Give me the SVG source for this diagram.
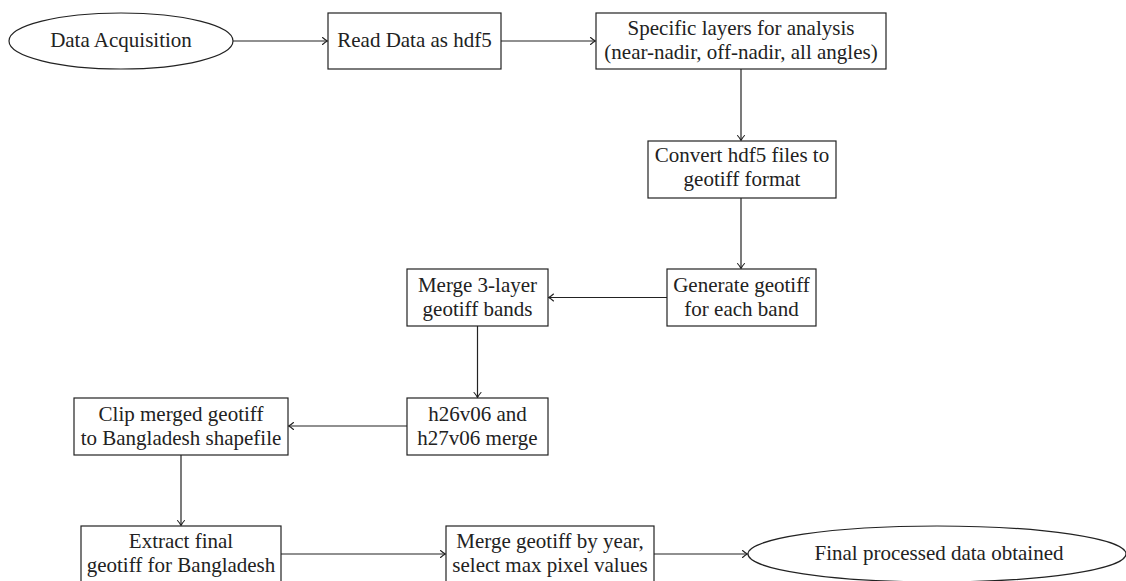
<svg xmlns="http://www.w3.org/2000/svg" width="1126" height="581" viewBox="0 0 1126 581">
<style>
  .shape { fill: #fff; stroke: #222; stroke-width: 1.2; }
  .lbl { font-family: 'Liberation Serif', 'Times New Roman', 'DejaVu Serif', serif; font-size: 21px; fill: #222; text-anchor: middle; }
  .conn { fill: none; stroke: #222; stroke-width: 1.2; }
</style>
<defs>
  <marker id="arr" markerUnits="userSpaceOnUse" markerWidth="12" markerHeight="10" viewBox="-6 -5 8 10" refX="0" refY="0" orient="auto">
    <path d="M -4.5 -3.5 Q -1.5 -0.8 0.5 0 Q -1.5 0.8 -4.5 3.5" fill="none" stroke="#222" stroke-width="1.1" stroke-linecap="round"/>
  </marker>
</defs>
<rect width="1126" height="581" fill="#fff"/>
<g id="connectors">
  <line class="conn" x1="233" y1="41" x2="327" y2="41" marker-end="url(#arr)"/>
  <line class="conn" x1="501" y1="41" x2="595" y2="41" marker-end="url(#arr)"/>
  <line class="conn" x1="741" y1="69" x2="741" y2="140" marker-end="url(#arr)"/>
  <line class="conn" x1="741" y1="198" x2="741" y2="268" marker-end="url(#arr)"/>
  <line class="conn" x1="667" y1="297.5" x2="549" y2="297.5" marker-end="url(#arr)"/>
  <line class="conn" x1="477.5" y1="326" x2="477.5" y2="397" marker-end="url(#arr)"/>
  <line class="conn" x1="407" y1="426" x2="289" y2="426" marker-end="url(#arr)"/>
  <line class="conn" x1="181" y1="455" x2="181" y2="525" marker-end="url(#arr)"/>
  <line class="conn" x1="281" y1="554" x2="445" y2="554" marker-end="url(#arr)"/>
  <line class="conn" x1="654" y1="554" x2="747" y2="554" marker-end="url(#arr)"/>
</g>
<g id="data-acquisition">
  <ellipse class="shape" cx="121" cy="41" rx="112" ry="28"/>
  <text class="lbl" x="121" y="47" font-family="Liberation Serif, serif">Data Acquisition</text>
</g>
<g id="read-data">
  <rect class="shape" x="328" y="13" width="173" height="56"/>
  <text class="lbl" x="414.5" y="47">Read Data as hdf5</text>
</g>
<g id="specific-layers">
  <rect class="shape" x="596" y="13" width="290" height="56"/>
  <text class="lbl" x="741" y="34.5">Specific layers for analysis</text>
  <text class="lbl" x="741" y="58.5">(near-nadir, off-nadir, all angles)</text>
</g>
<g id="convert">
  <rect class="shape" x="648" y="141" width="188" height="57"/>
  <text class="lbl" x="742" y="162">Convert hdf5 files to</text>
  <text class="lbl" x="742" y="186">geotiff format</text>
</g>
<g id="generate">
  <rect class="shape" x="667" y="269" width="149" height="57"/>
  <text class="lbl" x="741.5" y="291.5">Generate geotiff</text>
  <text class="lbl" x="741.5" y="315.5">for each band</text>
</g>
<g id="merge-3layer">
  <rect class="shape" x="407" y="269" width="141" height="57"/>
  <text class="lbl" x="477.5" y="291.5">Merge 3-layer</text>
  <text class="lbl" x="477.5" y="315.5">geotiff bands</text>
</g>
<g id="h26v06-merge">
  <rect class="shape" x="407" y="398" width="141" height="57"/>
  <text class="lbl" x="477.5" y="420.5">h26v06 and</text>
  <text class="lbl" x="477.5" y="444.5">h27v06 merge</text>
</g>
<g id="clip">
  <rect class="shape" x="74" y="398" width="214" height="57"/>
  <text class="lbl" x="181" y="420.5">Clip merged geotiff</text>
  <text class="lbl" x="181" y="444.5">to Bangladesh shapefile</text>
</g>
<g id="extract">
  <rect class="shape" x="81" y="526" width="200" height="57"/>
  <text class="lbl" x="181" y="547.5">Extract final</text>
  <text class="lbl" x="181" y="571.5">geotiff for Bangladesh</text>
</g>
<g id="merge-year">
  <rect class="shape" x="446" y="526" width="208" height="57"/>
  <text class="lbl" x="550" y="547.5">Merge geotiff by year,</text>
  <text class="lbl" x="550" y="571.5">select max pixel values</text>
</g>
<g id="final-data">
  <ellipse class="shape" cx="937" cy="554" rx="189" ry="28"/>
  <text class="lbl" x="939" y="560">Final processed data obtained</text>
</g>
</svg>
